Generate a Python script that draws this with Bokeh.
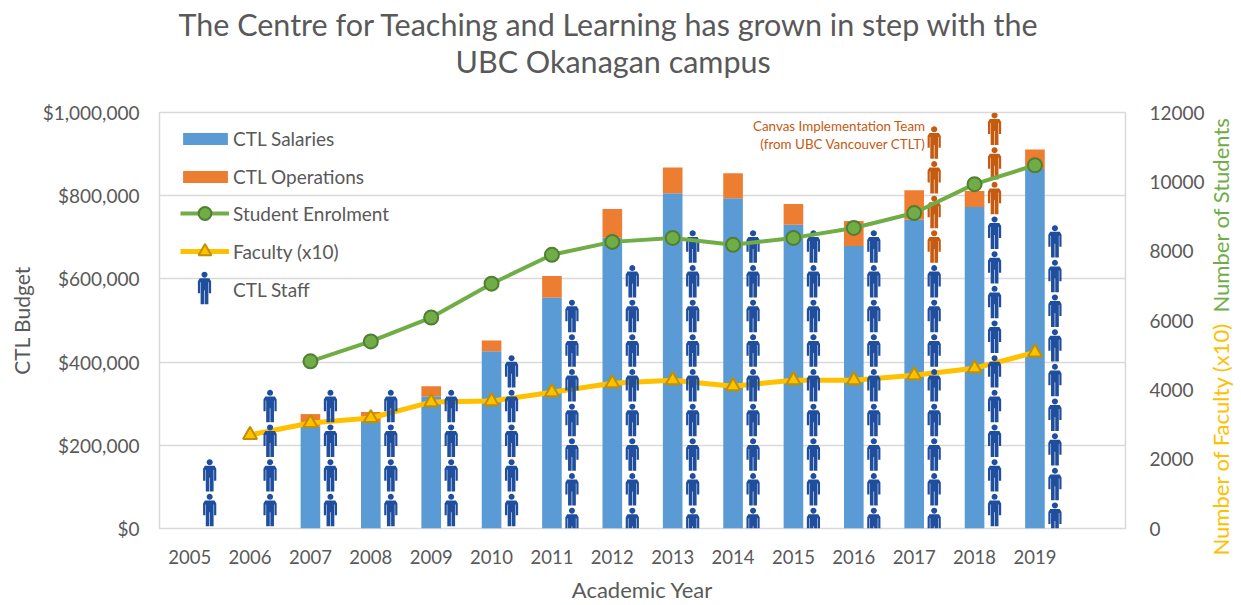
import math
from bokeh.plotting import figure
from bokeh.embed import file_html
from bokeh.resources import INLINE
from bokeh.models import (Range1d, LinearAxis, FixedTicker, NumeralTickFormatter, Legend, LegendItem, Label, Title)

years = [2005, 2006, 2007, 2008, 2009, 2010, 2011, 2012, 2013, 2014, 2015, 2016, 2017, 2018, 2019]
bar_years = years[2:]
salaries = [245000, 256000, 318000, 426000, 555000, 699000, 806000, 794000, 730000, 679000, 742000, 773000, 864000]
operations = [30000, 24000, 24000, 26000, 52000, 69000, 62000, 60000, 50000, 60000, 71000, 38000, 47000]
student_years = years[2:]
students = [4823, 5397, 6086, 7062, 7895, 8268, 8383, 8182, 8383, 8670, 9100, 9933, 10478]
faculty_years = years[1:]
faculty = [2699, 3043, 3187, 3646, 3675, 3933, 4191, 4278, 4105, 4278, 4278, 4421, 4622, 5081]
staff_ctl = [2, 4, 4, 4, 4, 5, 6.6, 7.6, 8.6, 8.6, 8.6, 8.6, 7.6, 9, 8.75]
staff_canvas = [0, 0, 0, 0, 0, 0, 0, 0, 0, 0, 0, 0, 4, 3, 0]
left_ticks = [0, 200000, 400000, 600000, 800000, 1000000]
right_ticks = [0, 2000, 4000, 6000, 8000, 10000, 12000]

GREY = "#595959"
FONT = "Lato"
W, H = 1241, 605
FL, FR, FT, FB = 159, 1125, 112, 530   # frame edges in pixels
XMIN, XMAX = 2004.5, 2020.5

p = figure(width=W, height=H, output_backend="svg", toolbar_location=None,
           x_range=Range1d(XMIN, XMAX), y_range=Range1d(0, 1000000),
           min_border_left=FL, min_border_right=W - FR, min_border_top=FT, min_border_bottom=H - FB)
p.extra_y_ranges = {"right": Range1d(0, 12000)}
p.outline_line_color = "#d9d9d9"
p.outline_line_width = 1.5
p.background_fill_color = "white"

def px_x(px):
    return XMIN + (px - FL) * (XMAX - XMIN) / (FR - FL)
def px_y(px):
    return (FB - px) * 1000000 / (FB - FT)
XU = (XMAX - XMIN) / (FR - FL)       # years per pixel
YU = 12000 / (FB - FT)               # right-axis units per pixel

# title, as two stacked lines
t2 = Title(text="UBC Okanagan campus", align="left", offset=455 - FL, standoff=68,
           text_font=FONT, text_font_size="30.5px", text_font_style="normal", text_color=GREY)
t1 = Title(text="The Centre for Teaching and Learning has grown in step with the", align="left", offset=178 - FL,
           standoff=-70, text_font=FONT, text_font_size="30.5px", text_font_style="normal", text_color=GREY)
p.add_layout(t2, "above")
p.add_layout(t1, "above")

# coloured right-hand axis titles, placed in the right side panel (nearest the frame)
for txt, col, ypx in (("Number of Faculty (x10)", "#ffc000", 555), ("Number of Students", "#70ad47", 312)):
    p.add_layout(Label(x=1220, y=ypx, x_units="canvas", y_units="canvas", text=txt, text_font=FONT,
                       text_font_size="22px", text_color=col, text_align="left",
                       text_baseline="middle", angle=math.pi / 2), "right")

# axes
xa = p.xaxis[0]
xa.ticker = FixedTicker(ticks=years)
xa.formatter = NumeralTickFormatter(format="0")
xa.axis_label = "Academic Year"
ya = p.yaxis[0]
ya.ticker = FixedTicker(ticks=left_ticks)
ya.formatter = NumeralTickFormatter(format="$0,0")
ya.axis_label = "CTL Budget"
ra = LinearAxis(y_range_name="right", ticker=FixedTicker(ticks=right_ticks),
                formatter=NumeralTickFormatter(format="0"))
p.add_layout(ra, "right")
for a in (xa, ya, ra):
    a.axis_line_color = None
    a.major_tick_line_color = None
    a.minor_tick_line_color = None
    a.major_label_text_color = GREY
    a.major_label_text_font = FONT
    a.major_label_text_font_size = "19px"
    a.axis_label_text_color = GREY
    a.axis_label_text_font = FONT
    a.axis_label_text_font_size = "21px"
    a.axis_label_text_font_style = "normal"
xa.major_label_text_font_size = "18.5px"
xa.axis_label_text_font_size = "22px"
xa.major_label_standoff = 15
xa.axis_label_standoff = 9
ya.major_label_standoff = 14
ya.axis_label_standoff = 6
ra.major_label_standoff = -36

p.xgrid.visible = False
p.ygrid.ticker = FixedTicker(ticks=left_ticks)
p.ygrid.grid_line_color = "#d9d9d9"
p.ygrid.grid_line_width = 1.5

# bars
BAR_W = 0.325
tops = [s + o for s, o in zip(salaries, operations)]
r_sal = p.vbar(x=bar_years, bottom=0, top=salaries, width=BAR_W, fill_color="#5b9bd5", line_color=None)
r_ops = p.vbar(x=bar_years, bottom=salaries, top=tops, width=BAR_W, fill_color="#ed7d31", line_color=None)

# faculty line
r_fl = p.line(faculty_years, faculty, y_range_name="right", line_color="#ffc000", line_width=5)

# staff pictograms
BODY = [(-3.9, 0), (-0.3, 0), (-0.3, 14), (0.3, 14), (0.3, 0), (3.9, 0), (3.9, 22), (4.4, 22), (4.4, 11),
        (6.6, 11), (6.6, 23), (4.8, 26), (-4.8, 26), (-6.6, 23), (-6.6, 11), (-4.4, 11), (-4.4, 22), (-3.9, 22)]
HEAD = [(3.0 * math.cos(i * math.pi / 8), 29.6 + 3.0 * math.sin(i * math.pi / 8)) for i in range(16)]
ICON_H = 32.6

def person(xc, ytop, xs, ys):
    base = ytop - ICON_H * YU
    for shape in (BODY, HEAD):
        xs.append([xc + dx * XU for dx, _ in shape])
        ys.append([max(0, base + dy * YU) for _, dy in shape])

OFF = 20 * XU
bx, by, ox, oy = [], [], [], []
for yr, n, extra in zip(years, staff_ctl, staff_canvas):
    for k in range(math.ceil(n)):
        person(yr + OFF, (n - k) * 1000, bx, by)
    for k in range(extra):
        person(yr + OFF, (n + extra - k) * 1000, ox, oy)
p.patches(ox, oy, y_range_name="right", fill_color="#c55a11", line_color=None)
p.patches(bx, by, y_range_name="right", fill_color="#1f4e9e", line_color=None)

# faculty markers and student line on top
r_fm = p.scatter(faculty_years, faculty, y_range_name="right", marker="triangle", size=14,
                 fill_color="#ffc000", line_color="#bf9000", line_width=2)
r_sl = p.line(student_years, students, y_range_name="right", line_color="#70ad47", line_width=4)
r_sm = p.scatter(student_years, students, y_range_name="right", marker="circle", size=14,
                 fill_color="#70ad47", line_color="#507e32", line_width=2)

# legends
r_dummy = p.scatter([XMIN], [0], marker="circle", size=1, fill_alpha=0, line_alpha=0)
leg1 = Legend(items=[LegendItem(label="CTL Salaries", renderers=[r_sal]),
                     LegendItem(label="CTL Operations", renderers=[r_ops])],
              location=(18, 340), glyph_width=56, glyph_height=15, label_height=20, spacing=15, label_standoff=0)
leg2 = Legend(items=[LegendItem(label="Student Enrolment", renderers=[r_sl, r_sm]),
                     LegendItem(label="Faculty (x10)", renderers=[r_fl, r_fm]),
                     LegendItem(label="CTL Staff", renderers=[r_dummy])],
              location=(21, 223), glyph_width=49, glyph_height=32, label_height=20, spacing=6, label_standoff=4)
for lg in (leg1, leg2):
    lg.padding = 0
    lg.margin = 0
    lg.border_line_color = None
    lg.background_fill_alpha = 0
    lg.label_text_font = FONT
    lg.label_text_font_size = "19px"
    lg.label_text_color = GREY
    p.add_layout(lg, "center")
lx, ly = [], []
person(px_x(204), (FB - 272) * YU, lx, ly)
p.patches(lx, ly, y_range_name="right", fill_color="#1f4e9e", line_color=None)

# annotation inside the frame
def label(text, xp, yp, size, color, align="center"):
    p.add_layout(Label(x=px_x(xp), y=px_y(yp), text=text, text_font=FONT, text_font_size=size,
                       text_color=color, text_align=align, text_baseline="middle"))

label("Canvas Implementation Team", 925, 126, "13.4px", "#c55a11", "right")
label("(from UBC Vancouver CTLT)", 925, 144, "13.4px", "#c55a11", "right")

open("out.html", "w").write(file_html(p, INLINE))
